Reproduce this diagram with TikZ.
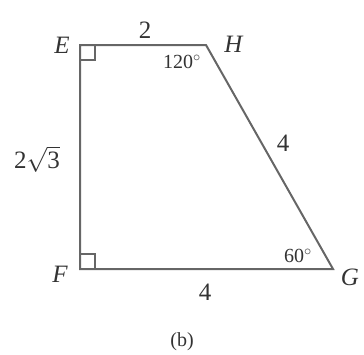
\documentclass[tikz,border=0pt]{standalone}
\usepackage{amsmath}
\usepackage{fontspec}
\setmainfont{Liberation Serif}
\begin{document}
\begin{tikzpicture}[x=1pt,y=-1pt,
  edge/.style={draw=black!60,line width=2pt,line join=miter},
  rightmark/.style={draw=black!60,line width=1.3pt},
  lbl/.style={text=black!80,font=\fontsize{25}{28}\selectfont,inner sep=0pt},
  ang/.style={text=black!80,font=\fontsize{20}{22}\selectfont,inner sep=0pt}]
\useasboundingbox (0,0) rectangle (364,354);
\coordinate (E) at (80,45);
\coordinate (H) at (206,45);
\coordinate (G) at (333,269);
\coordinate (F) at (80,269);
\draw[edge] (E) -- (H) -- (G) -- (F) -- cycle;
\draw[rightmark] (E) ++(0,15) -- ++(15,0) -- ++(0,-15);
\draw[rightmark] (F) ++(0,-15) -- ++(15,0) -- ++(0,15);
\node[lbl] (tE) at (62,45) {\textit{E}};
\node[lbl] (tH) at (234,44) {\textit{H}};
\node[lbl] (tF) at (60,274) {\textit{F}};
\node[lbl] (tG) at (350,277) {\textit{G}};
\node[lbl] (t2) at (145,30) {2};
\node[lbl] (t4a) at (283,143) {4};
\node[lbl] (t4b) at (205,292) {4};
\node[lbl] (t23) at (37,159) {2$\sqrt{\text{3}}$};
\node[ang] (a120) at (182,62) {120$^{\circ}$};
\node[ang] (a60) at (298,256) {60$^{\circ}$};
\node[lbl,font=\fontsize{20}{22}\selectfont] (cap) at (182,342) {(b)};
\end{tikzpicture}
\end{document}
